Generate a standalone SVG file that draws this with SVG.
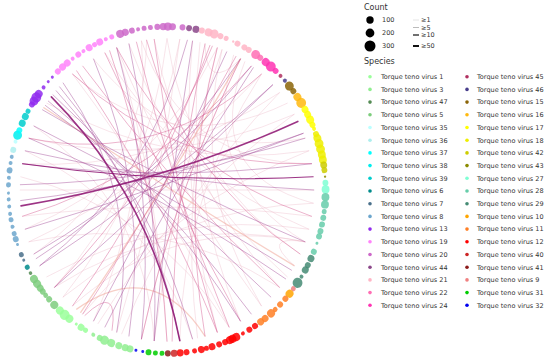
<svg xmlns="http://www.w3.org/2000/svg" width="550" height="362" viewBox="0 0 550 362">
<style>
text{font-family:"DejaVu Sans","Liberation Sans",sans-serif;fill:#333}
.t{font-size:6.5px}
.h{font-size:8px}
.ch path{fill:none;stroke-linecap:round}
.f{stroke:#e8a8bd;stroke-opacity:.45;stroke-width:.7}
.k{stroke:#d9679a;stroke-opacity:.55;stroke-width:.9}
.s{stroke:#f0a090;stroke-opacity:.5;stroke-width:1.3}
.p{stroke:#9e4294;stroke-opacity:.55;stroke-width:.8}
.d{stroke:#8b1070;stroke-opacity:.85;stroke-width:1.6}
.ring circle{cx:161px;fill-opacity:.85}
</style>
<rect width="550" height="362" fill="#fff"/>
<g id="connectors" class="ch" transform="translate(167,190) scale(0.985,1.015) translate(-167,-190)">
<path class="f" d="M141.1,43.3 Q151.9,187.3 92.5,319"/>
<path class="f" d="M167,41 Q149.9,182 52.9,285.8"/>
<path class="f" d="M180,41.6 Q161.3,188.7 116,330"/>
<path class="f" d="M200.5,44.8 Q183.2,187.6 241.5,319"/>
<path class="f" d="M222.8,51.8 Q189.7,186.4 262.8,304.1"/>
<path class="f" d="M234.6,57.2 Q198.1,177.7 307,241"/>
<path class="f" d="M246,63.6 Q201.1,173 315.4,203"/>
<path class="f" d="M262.8,75.9 Q160.4,180.5 27,241"/>
<path class="f" d="M281.1,94.2 Q162.1,171.7 20.3,164.1"/>
<path class="f" d="M289.1,104.5 Q170.9,160.1 71.2,75.9"/>
<path class="f" d="M296,115.5 Q165.4,171.2 27,139"/>
<path class="f" d="M307,139 Q176.8,163 92.5,61"/>
<path class="f" d="M310.9,151.4 Q170.3,171.4 45,104.5"/>
<path class="f" d="M313.7,164.1 Q185.1,164.1 141.1,43.3"/>
<path class="f" d="M316,190 Q167,190 18,190"/>
<path class="f" d="M313.7,215.9 Q167,197.8 20.3,215.9"/>
<path class="f" d="M310.9,228.6 Q170.3,208.6 45,275.5"/>
<path class="f" d="M307,241 Q173.6,214.8 71.2,304.1"/>
<path class="f" d="M302,253 Q187.3,177.1 167,41"/>
<path class="f" d="M281.1,285.8 Q182.2,182.1 154,41.6"/>
<path class="f" d="M262.8,304.1 Q173.7,186.1 116,50"/>
<path class="f" d="M230,325 Q162.1,193.1 71.2,75.9"/>
<path class="f" d="M218,330 Q178.5,189 192.9,43.3"/>
<path class="f" d="M198,335.7 Q179.3,190.9 218,50"/>
<path class="f" d="M167,339 Q159.4,191.4 116,50"/>
<path class="f" d="M141.1,336.7 Q174.3,192.7 241.5,61"/>
<path class="f" d="M121,331.7 Q177.2,196.9 281.1,94.2"/>
<path class="f" d="M97,321.6 Q175.9,198.6 296,115.5"/>
<path class="f" d="M81.5,312.1 Q175.8,202.5 310.9,151.4"/>
<path class="f" d="M61.6,295.4 Q173.5,207.8 315.4,203"/>
<path class="f" d="M52.9,285.8 Q170.9,212 307,241"/>
<path class="f" d="M27,241 Q163.1,212 281.1,285.8"/>
<path class="f" d="M23.1,228.6 Q153.1,174.8 218,50"/>
<path class="f" d="M18.6,177 Q154.2,208.3 230,325"/>
<path class="f" d="M23.1,151.4 Q149.3,206.2 192.9,336.7"/>
<path class="f" d="M32,127 Q144.8,202.8 154,338.4"/>
<path class="f" d="M128.4,46.1 Q179.5,181.2 289.1,275.5"/>
<path class="f" d="M104,55 Q179.1,175.5 310.9,228.6"/>
<path class="f" d="M307,241 Q261.1,233.9 296,264.5"/>
<path class="f" d="M205.6,46.1 Q206.6,94.5 241.5,61"/>
<path class="f" d="M180,41.6 Q153.1,183.6 61.6,295.4"/>
<path class="f" d="M146.3,42.4 Q143.6,177.3 32,253"/>
<path class="f" d="M262.8,75.9 Q183.3,195.1 180,338.4"/>
<path class="f" d="M222.8,51.8 Q173.4,191.5 154,338.4"/>
<path class="s" d="M42,108.9 Q167.6,189 296,264.5"/>
<path class="s" d="M79.4,310.5 Q165,188.7 241.5,61"/>
<path class="s" d="M75.3,307.4 Q153,255 205.6,333.9"/>
<path class="k" d="M205.6,46.1 Q173.6,190.8 172.2,338.9"/>
<path class="k" d="M218,50 Q180.4,190.6 205.6,333.9"/>
<path class="k" d="M241.5,61 Q174.3,192.7 141.1,336.7"/>
<path class="k" d="M210.6,47.5 Q159.2,185.7 71.2,304.1"/>
<path class="k" d="M104,55 Q168.7,189.1 241.5,319"/>
<path class="k" d="M81.5,68 Q171.3,186.1 281.1,285.8"/>
<path class="k" d="M146.3,42.4 Q184.1,177.3 302,253"/>
<path class="k" d="M154,41.6 Q172.7,188.7 218,330"/>
<path class="k" d="M252.5,68 Q157.8,175.6 20.3,215.9"/>
<path class="k" d="M262.8,75.9 Q160.4,165.2 27,139"/>
<path class="k" d="M116,50 Q181.4,172.9 313.7,215.9"/>
<path class="k" d="M71.2,75.9 Q174.6,169 313.7,164.1"/>
<path class="k" d="M75.3,72.6 Q160.9,193.4 218,330"/>
<path class="k" d="M136,44.3 Q171.8,188.4 230,325"/>
<path class="k" d="M237,58.4 Q164.7,188.6 81.5,312.1"/>
<path class="k" d="M213,48.3 Q156.8,183.1 52.9,285.8"/>
<path class="k" d="M108.8,52.8 Q158.3,191.8 167,339"/>
<path class="k" d="M111.2,328.2 Q118.3,281.6 83.7,313.5"/>
<path class="p" d="M58,88.4 Q152.6,197 180,338.4"/>
<path class="p" d="M54.5,92.2 Q154,197.3 192.9,336.7"/>
<path class="p" d="M51.2,96.2 Q160.8,195.3 241.5,319"/>
<path class="p" d="M46.5,102.4 Q161.8,195.2 252.5,312.1"/>
<path class="p" d="M43.5,106.7 Q164.3,193.3 272.4,295.4"/>
<path class="p" d="M40.6,111 Q169,185.8 307,241"/>
<path class="p" d="M23.1,151.4 Q167.8,184.2 316,190"/>
<path class="p" d="M20.3,164.1 Q167,182.2 313.7,164.1"/>
<path class="p" d="M18.1,184.8 Q165.7,181.6 307,139"/>
<path class="p" d="M18.4,200.4 Q165.4,183.2 305.2,134.2"/>
<path class="p" d="M32,253 Q159.6,181.2 252.5,68"/>
<path class="p" d="M34.2,257.6 Q158.3,180.8 241.5,61"/>
<path class="p" d="M38,264.5 Q163.7,185.7 274.2,86.5"/>
<path class="p" d="M32,127 Q165.7,192.4 293.4,269"/>
<path class="p" d="M27,139 Q164.1,195.5 287.5,277.6"/>
<path class="p" d="M128.4,46.1 Q159.3,190.7 154,338.4"/>
<path class="p" d="M116,50 Q155.5,191 141.1,336.7"/>
<path class="p" d="M92.5,61 Q150,192.2 128.4,333.9"/>
<path class="p" d="M61.6,84.6 Q143.5,195.2 116,330"/>
<path class="p" d="M274.2,86.5 Q166,188.8 52.9,285.8"/>
<path class="p" d="M305.2,134.2 Q166.1,187.4 23.1,228.6"/>
<path class="p" d="M227.6,53.9 Q164.9,188.9 92.5,319"/>
<path class="p" d="M254.6,69.5 Q170.7,192.2 104,325"/>
<path class="p" d="M192.9,43.3 Q168.9,190.3 154,338.4"/>
<path class="p" d="M187.7,42.4 Q150.8,179 38,264.5"/>
<path class="d" d="M299.8,122.4 Q164.7,182.2 18.8,205.6"/>
<path class="d" d="M49.6,98.3 Q151.3,198.5 180,338.4"/>
<path class="d" d="M20.3,164.1 Q167.3,184.2 315.4,177" style="stroke-width:1.1"/>
</g>
<g class="ring" transform="translate(167,190) scale(0.985,1.015)">
<g id="ttv27" fill="#7fffd4"><circle r="3" transform="rotate(357.5)"/><circle r="4" transform="rotate(359.8)"/></g>
<g id="ttv28" fill="#66cdaa"><circle r="4" transform="rotate(2.5)"/><circle r="4" transform="rotate(5.1)"/><circle r="2.5" transform="rotate(7.6)"/><circle r="3" transform="rotate(9.8)"/><circle r="3" transform="rotate(12.2)"/><circle r="3" transform="rotate(14.6)"/><circle r="3" transform="rotate(16.5)"/><circle r="1.5" transform="rotate(19)"/><circle r="3" transform="rotate(22.2)"/></g>
<g id="ttv29" fill="#458b74"><circle r="3.5" transform="rotate(24.8)"/><circle r="3" transform="rotate(27.4)"/><circle r="3.5" transform="rotate(29.3)"/><circle r="2" transform="rotate(32)"/><circle r="5" transform="rotate(34.6)"/></g>
<g id="ttv9" fill="#f08080"><circle r="2.5" transform="rotate(37.2)"/></g>
<g id="ttv10" fill="#ffa500"><circle r="4" transform="rotate(39.4)"/></g>
<g id="ttv11" fill="#ff7f24"><circle r="3" transform="rotate(41.7)"/><circle r="3" transform="rotate(44.5)"/><circle r="2.5" transform="rotate(47)"/><circle r="4" transform="rotate(49)"/><circle r="3.5" transform="rotate(51.8)"/><circle r="3.5" transform="rotate(53.8)"/></g>
<g id="ttv12" fill="#ff0000"><circle r="3" transform="rotate(56.3)"/><circle r="3" transform="rotate(58.7)"/><circle r="2" transform="rotate(61.4)"/><circle r="4" transform="rotate(64.1)"/><circle r="4" transform="rotate(65.6)"/><circle r="4" transform="rotate(66.6)"/><circle r="3" transform="rotate(68.5)"/><circle r="3" transform="rotate(70.8)"/><circle r="3.5" transform="rotate(73.5)"/><circle r="2.5" transform="rotate(75.6)"/><circle r="3.5" transform="rotate(77.5)"/><circle r="2.5" transform="rotate(80)"/><circle r="3" transform="rotate(82.9)"/><circle r="3.5" transform="rotate(85.2)"/></g>
<g id="ttv40" fill="#cd2626"><circle r="3.5" transform="rotate(87.4)"/></g>
<g id="ttv41" fill="#8b1a1a"><circle r="3" transform="rotate(89.7)"/></g>
<g id="ttv31" fill="#00cd00"><circle r="2.5" transform="rotate(91.8)"/><circle r="2.5" transform="rotate(94.2)"/><circle r="3" transform="rotate(96.7)"/></g>
<g id="ttv32" fill="#0000ee"><circle r="1.5" transform="rotate(98.8)"/><circle r="1.5" transform="rotate(101.3)"/></g>
<g id="ttv3" fill="#90ee90"><circle r="3.5" transform="rotate(103.5)"/><circle r="3.5" transform="rotate(105.3)"/><circle r="3.5" transform="rotate(107.7)"/><circle r="4" transform="rotate(110.6)"/><circle r="4.5" transform="rotate(113.2)"/><circle r="3" transform="rotate(115.1)"/><circle r="2" transform="rotate(117.7)"/></g>
<g id="ttv1" fill="#9aff9a"><circle r="2.5" transform="rotate(120.9)"/><circle r="3.5" transform="rotate(122.8)"/><circle r="1.5" transform="rotate(124.9)"/><circle r="4" transform="rotate(128)"/><circle r="5" transform="rotate(130.2)"/><circle r="4" transform="rotate(132.5)"/></g>
<g id="ttv5" fill="#7ccd7c"><circle r="4" transform="rotate(135.3)"/><circle r="3" transform="rotate(138)"/><circle r="2.5" transform="rotate(139.9)"/><circle r="3" transform="rotate(141.6)"/><circle r="3.5" transform="rotate(143.1)"/><circle r="4" transform="rotate(145)"/><circle r="4" transform="rotate(147)"/></g>
<g id="ttv47" fill="#548b54"><circle r="1.8" transform="rotate(149.4)"/></g>
<g id="ttv6" fill="#008b8b"><circle r="2.5" transform="rotate(151.8)"/></g>
<g id="ttv7" fill="#4a708b"><circle r="1.5" transform="rotate(154.6)"/><circle r="2.5" transform="rotate(156.7)"/></g>
<g id="ttv8" fill="#6ca6cd"><circle r="1.5" transform="rotate(160.5)"/><circle r="3" transform="rotate(162.5)"/><circle r="2.5" transform="rotate(164.5)"/><circle r="2" transform="rotate(167)"/><circle r="2.5" transform="rotate(169.5)"/><circle r="2" transform="rotate(171.6)"/><circle r="2" transform="rotate(174.2)"/><circle r="2" transform="rotate(176.7)"/><circle r="1.5" transform="rotate(178.9)"/><circle r="2.5" transform="rotate(181.8)"/><circle r="2" transform="rotate(184.3)"/><circle r="3" transform="rotate(186.9)"/><circle r="2" transform="rotate(189.5)"/><circle r="2" transform="rotate(191.7)"/></g>
<g id="ttv36" fill="#aeeeee"><circle r="3" transform="rotate(194.2)"/></g>
<g id="ttv35" fill="#bbffff"><circle r="2" transform="rotate(197.2)"/></g>
<g id="ttv38" fill="#00eeee"><circle r="4.5" transform="rotate(199.6)"/></g>
<g id="ttv37" fill="#00ffff"><circle r="3" transform="rotate(201.4)"/></g>
<g id="ttv39" fill="#00cdcd"><circle r="3.5" transform="rotate(204.1)"/><circle r="3.5" transform="rotate(206.7)"/><circle r="2.5" transform="rotate(208.8)"/></g>
<g id="ttv13" fill="#912cee"><circle r="3" transform="rotate(211.6)"/><circle r="4.5" transform="rotate(213)"/><circle r="5" transform="rotate(214.5)"/><circle r="4" transform="rotate(216)"/><circle r="2" transform="rotate(218.9)"/><circle r="1.5" transform="rotate(221.5)"/><circle r="1.5" transform="rotate(223.7)"/></g>
<g id="ttv19" fill="#ff83fa"><circle r="3" transform="rotate(226.5)"/><circle r="3.5" transform="rotate(228.8)"/><circle r="3.5" transform="rotate(231)"/><circle r="2" transform="rotate(233.5)"/><circle r="3" transform="rotate(236)"/><circle r="2" transform="rotate(238.2)"/><circle r="3.5" transform="rotate(240.6)"/><circle r="2.5" transform="rotate(242.8)"/><circle r="3.5" transform="rotate(244.9)"/><circle r="2" transform="rotate(247.3)"/><circle r="2.5" transform="rotate(249.6)"/></g>
<g id="ttv20" fill="#cd69c9"><circle r="4" transform="rotate(252.8)"/><circle r="3.5" transform="rotate(254.8)"/><circle r="3" transform="rotate(257.2)"/><circle r="2" transform="rotate(259.5)"/><circle r="2.5" transform="rotate(261.7)"/><circle r="2.5" transform="rotate(264)"/><circle r="3" transform="rotate(266.5)"/><circle r="3.5" transform="rotate(268.6)"/><circle r="4" transform="rotate(270.3)"/><circle r="3.5" transform="rotate(272)"/><circle r="3" transform="rotate(275.6)"/></g>
<g id="ttv44" fill="#8b4789"><circle r="3" transform="rotate(278)"/><circle r="3.5" transform="rotate(280.5)"/></g>
<g id="ttv21" fill="#ffb5c5"><circle r="3" transform="rotate(282.7)"/><circle r="4" transform="rotate(285.2)"/><circle r="4.5" transform="rotate(287.3)"/><circle r="3" transform="rotate(289.7)"/><circle r="2.5" transform="rotate(291.9)"/><circle r="1.2" transform="rotate(294.7)"/><circle r="3" transform="rotate(296.4)"/><circle r="3" transform="rotate(299.2)"/><circle r="3" transform="rotate(301)"/></g>
<g id="ttv22" fill="#ff6eb4"><circle r="4.5" transform="rotate(304)"/><circle r="3" transform="rotate(306)"/></g>
<g id="ttv24" fill="#ff34b3"><circle r="4" transform="rotate(308.5)"/><circle r="5" transform="rotate(310.9)"/><circle r="3" transform="rotate(313.2)"/></g>
<g id="ttv45" fill="#b03060"><circle r="2" transform="rotate(315.7)"/></g>
<g id="ttv46" fill="#483d8b"><circle r="2" transform="rotate(318)"/></g>
<g id="ttv15" fill="#8b6508"><circle r="4.5" transform="rotate(320.5)"/><circle r="3" transform="rotate(322.8)"/></g>
<g id="ttv16" fill="#ffb90f"><circle r="4" transform="rotate(325.3)"/><circle r="5" transform="rotate(327.8)"/></g>
<g id="ttv17" fill="#ffff00"><circle r="3.5" transform="rotate(330.5)"/><circle r="3.5" transform="rotate(332.5)"/><circle r="4" transform="rotate(334.5)"/><circle r="3" transform="rotate(336.5)"/><circle r="2" transform="rotate(338)"/></g>
<g id="ttv18" fill="#eeee00"><circle r="3" transform="rotate(340)"/><circle r="4" transform="rotate(341.5)"/><circle r="4.5" transform="rotate(343.5)"/><circle r="4.5" transform="rotate(345.5)"/><circle r="4" transform="rotate(347.5)"/><circle r="4" transform="rotate(349.3)"/></g>
<g id="ttv42" fill="#cdcd00"><circle r="3.5" transform="rotate(351.2)"/><circle r="3" transform="rotate(353)"/></g>
<g id="ttv43" fill="#8b8b00"><circle r="1.2" transform="rotate(355.3)"/></g>
</g>
<g id="legend-count">
<text class="h" x="364" y="9.5">Count</text>
<circle cx="370" cy="20" r="3.7" fill="#000"/>
<circle cx="370" cy="33" r="4.4" fill="#000"/>
<circle cx="370" cy="46" r="5.5" fill="#000"/>
<text class="t" x="382" y="22.3">100</text>
<text class="t" x="382" y="35.3">200</text>
<text class="t" x="382" y="48.3">300</text>
<line x1="413" y1="20" x2="419" y2="20" stroke="#ddd" stroke-width="0.8"/>
<line x1="413" y1="27.5" x2="419" y2="27.5" stroke="#bbb" stroke-width="1"/>
<line x1="413" y1="35" x2="419" y2="35" stroke="#222" stroke-width="1.3"/>
<line x1="413" y1="46" x2="419" y2="46" stroke="#111" stroke-width="2"/>
<text class="t" x="421" y="22.3">≥1</text>
<text class="t" x="421" y="29.8">≥5</text>
<text class="t" x="421" y="37.3">≥10</text>
<text class="t" x="421" y="48.3">≥50</text>
</g>
<g id="legend-species">
<text class="h" x="364" y="64">Species</text>
<g>
<circle cx="370" cy="76.7" r="1.8" fill="#9aff9a"/><text class="t" x="381" y="79">Torque teno virus 1</text>
<circle cx="370" cy="89.4" r="1.8" fill="#90ee90"/><text class="t" x="381" y="91.7">Torque teno virus 3</text>
<circle cx="370" cy="102.1" r="1.8" fill="#548b54"/><text class="t" x="381" y="104.4">Torque teno virus 47</text>
<circle cx="370" cy="114.8" r="1.8" fill="#7ccd7c"/><text class="t" x="381" y="117.1">Torque teno virus 5</text>
<circle cx="370" cy="127.5" r="1.8" fill="#bbffff"/><text class="t" x="381" y="129.8">Torque teno virus 35</text>
<circle cx="370" cy="140.2" r="1.8" fill="#aeeeee"/><text class="t" x="381" y="142.5">Torque teno virus 36</text>
<circle cx="370" cy="152.9" r="1.8" fill="#00ffff"/><text class="t" x="381" y="155.2">Torque teno virus 37</text>
<circle cx="370" cy="165.6" r="1.8" fill="#00eeee"/><text class="t" x="381" y="167.9">Torque teno virus 38</text>
<circle cx="370" cy="178.3" r="1.8" fill="#00cdcd"/><text class="t" x="381" y="180.6">Torque teno virus 39</text>
<circle cx="370" cy="191" r="1.8" fill="#008b8b"/><text class="t" x="381" y="193.3">Torque teno virus 6</text>
<circle cx="370" cy="203.7" r="1.8" fill="#4a708b"/><text class="t" x="381" y="206">Torque teno virus 7</text>
<circle cx="370" cy="216.4" r="1.8" fill="#6ca6cd"/><text class="t" x="381" y="218.7">Torque teno virus 8</text>
<circle cx="370" cy="229.1" r="1.8" fill="#912cee"/><text class="t" x="381" y="231.4">Torque teno virus 13</text>
<circle cx="370" cy="241.8" r="1.8" fill="#ff83fa"/><text class="t" x="381" y="244.1">Torque teno virus 19</text>
<circle cx="370" cy="254.5" r="1.8" fill="#cd69c9"/><text class="t" x="381" y="256.8">Torque teno virus 20</text>
<circle cx="370" cy="267.2" r="1.8" fill="#8b4789"/><text class="t" x="381" y="269.5">Torque teno virus 44</text>
<circle cx="370" cy="279.9" r="1.8" fill="#ffb5c5"/><text class="t" x="381" y="282.2">Torque teno virus 21</text>
<circle cx="370" cy="292.6" r="1.8" fill="#ff6eb4"/><text class="t" x="381" y="294.9">Torque teno virus 22</text>
<circle cx="370" cy="305.3" r="1.8" fill="#ff34b3"/><text class="t" x="381" y="307.6">Torque teno virus 24</text>
</g>
<g>
<circle cx="467" cy="76.7" r="1.8" fill="#b03060"/><text class="t" x="477" y="79">Torque teno virus 45</text>
<circle cx="467" cy="89.4" r="1.8" fill="#483d8b"/><text class="t" x="477" y="91.7">Torque teno virus 46</text>
<circle cx="467" cy="102.1" r="1.8" fill="#8b6508"/><text class="t" x="477" y="104.4">Torque teno virus 15</text>
<circle cx="467" cy="114.8" r="1.8" fill="#ffb90f"/><text class="t" x="477" y="117.1">Torque teno virus 16</text>
<circle cx="467" cy="127.5" r="1.8" fill="#ffff00"/><text class="t" x="477" y="129.8">Torque teno virus 17</text>
<circle cx="467" cy="140.2" r="1.8" fill="#eeee00"/><text class="t" x="477" y="142.5">Torque teno virus 18</text>
<circle cx="467" cy="152.9" r="1.8" fill="#cdcd00"/><text class="t" x="477" y="155.2">Torque teno virus 42</text>
<circle cx="467" cy="165.6" r="1.8" fill="#8b8b00"/><text class="t" x="477" y="167.9">Torque teno virus 43</text>
<circle cx="467" cy="178.3" r="1.8" fill="#7fffd4"/><text class="t" x="477" y="180.6">Torque teno virus 27</text>
<circle cx="467" cy="191" r="1.8" fill="#66cdaa"/><text class="t" x="477" y="193.3">Torque teno virus 28</text>
<circle cx="467" cy="203.7" r="1.8" fill="#458b74"/><text class="t" x="477" y="206">Torque teno virus 29</text>
<circle cx="467" cy="216.4" r="1.8" fill="#ffa500"/><text class="t" x="477" y="218.7">Torque teno virus 10</text>
<circle cx="467" cy="229.1" r="1.8" fill="#ff7f24"/><text class="t" x="477" y="231.4">Torque teno virus 11</text>
<circle cx="467" cy="241.8" r="1.8" fill="#ff0000"/><text class="t" x="477" y="244.1">Torque teno virus 12</text>
<circle cx="467" cy="254.5" r="1.8" fill="#cd2626"/><text class="t" x="477" y="256.8">Torque teno virus 40</text>
<circle cx="467" cy="267.2" r="1.8" fill="#8b1a1a"/><text class="t" x="477" y="269.5">Torque teno virus 41</text>
<circle cx="467" cy="279.9" r="1.8" fill="#f08080"/><text class="t" x="477" y="282.2">Torque teno virus 9</text>
<circle cx="467" cy="292.6" r="1.8" fill="#00cd00"/><text class="t" x="477" y="294.9">Torque teno virus 31</text>
<circle cx="467" cy="305.3" r="1.8" fill="#0000ee"/><text class="t" x="477" y="307.6">Torque teno virus 32</text>
</g>
</g>
</svg>
